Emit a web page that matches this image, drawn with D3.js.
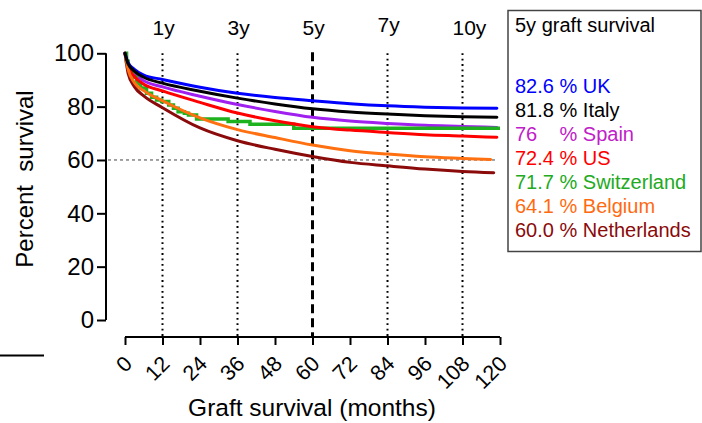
<!DOCTYPE html>
<html>
<head>
<meta charset="utf-8">
<script src="https://cdn.jsdelivr.net/npm/d3@7"></script>
<style>
  html, body { margin: 0; padding: 0; background: #fff; }
  svg { display: block; font-family: "Liberation Sans", Arial, sans-serif; }
  text { white-space: pre; }
</style>
</head>
<body>
<svg id="chart" width="702" height="423"></svg>
<script>
// ---------- data ----------
const countries = ["UK", "Italy", "Spain", "US", "Switzerland", "Belgium", "Netherlands"];
const fiveYearValues = ["82.6", "81.8", "76   ", "72.4", "71.7", "64.1", "60.0"];
const curveMonths = [0, 1, 3, 6, 12, 24, 36, 48, 60, 72, 84, 96, 108];
const endMonths = [119, 119, 119, 119, 120, 117, 118];

const ukSurv          = [100, 96.5, 94.0, 91.8, 90.2, 87.3, 85.0, 83.4, 82.2, 81.1, 80.3, 79.8, 79.5, 79.4];
const italySurv       = [100, 96.0, 93.3, 91.0, 88.8, 85.8, 83.2, 81.0, 79.2, 78.0, 77.2, 76.6, 76.2, 76.0];
const spainSurv       = [100, 95.5, 92.3, 89.7, 87.4, 83.9, 80.8, 78.2, 76.0, 74.6, 73.7, 73.0, 72.6, 72.2];
const usSurv          = [100, 95.0, 91.3, 88.4, 85.9, 81.6, 77.6, 74.7, 72.5, 71.2, 70.3, 69.5, 69.0, 68.5];
const belgiumSurv     = [100, 94.0, 89.0, 86.0, 82.2, 75.8, 71.4, 68.4, 65.6, 63.5, 62.2, 61.2, 60.6, 60.2];
const netherlandsSurv = [100, 92.5, 87.5, 84.0, 79.6, 72.0, 67.2, 64.0, 61.3, 59.1, 57.8, 56.6, 55.7, 55.2];

// Switzerland: Kaplan-Meier step curve
const switzerlandMonths = [0, 0.5, 1, 1.6, 2.5, 3.7, 5, 6.9, 8.5, 10.1, 11.7, 14, 15.5, 17, 19, 20.3, 22.9, 33, 40, 54, 120];
const switzerlandSurv   = [100, 97, 95, 93.7, 91, 88.7, 87, 85, 83.5, 82.5, 81.9, 80.6, 79.4, 78.1, 77.5, 76.9, 75.4, 74.4, 73.4, 71.9, 71.9];

const yTicks = [0, 20, 40, 60, 80, 100];
const xTicks = [0, 12, 24, 36, 48, 60, 72, 84, 96, 108, 120];
const yearMonths = [12, 36, 60, 84, 108];
const yearLabels = ["1y", "3y", "5y", "7y", "10y"];

const curveColors = ["#0000ff", "#000000", "#a020f0", "#ff0000", "#1fb21f", "#ff7010", "#8b0a0a"];
const textColors  = ["#0000ff", "#000000", "#c020c8", "#ff0000", "#22aa22", "#ff6a10", "#8b0a0a"];

// ---------- layout ----------
const svg = d3.select("#chart");
const x = d3.scaleLinear().domain([0, 120]).range([125, 500]);
const y = d3.scaleLinear().domain([0, 100]).range([320, 53.3]);
const xAxisY = 337;
const yAxisX = 106;

// ---------- reference lines ----------
const grid = svg.append("g");
yearMonths.forEach((m) => {
  if (m === 60) {
    grid.append("line")
      .attr("x1", x(m)).attr("x2", x(m))
      .attr("y1", y(100) - 1).attr("y2", xAxisY)
      .attr("stroke", "#000").attr("stroke-width", 3)
      .attr("stroke-dasharray", "9,5");
  } else {
    grid.append("line")
      .attr("x1", x(m)).attr("x2", x(m))
      .attr("y1", y(100)).attr("y2", xAxisY)
      .attr("stroke", "#000").attr("stroke-width", 2)
      .attr("stroke-dasharray", "1.8,3.6");
  }
});
grid.append("line")
  .attr("x1", yAxisX + 2).attr("x2", x(119))
  .attr("y1", y(60)).attr("y2", y(60))
  .attr("stroke", "#444").attr("stroke-width", 1)
  .attr("stroke-dasharray", "3,3");

// year labels
svg.append("g").selectAll("text")
  .data(yearMonths)
  .join("text")
  .attr("x", (d) => x(d) - 10)
  .attr("y", (d, i) => (yearLabels[i] === "7y" ? 32 : 35))
  .attr("font-size", 21)
  .attr("fill", "#000")
  .text((d, i) => yearLabels[i]);

// ---------- curves ----------
const smoothSeries = [ukSurv, italySurv, spainSurv, usSurv, null, belgiumSurv, netherlandsSurv];
const line = d3.line().x((d) => x(d[0])).y((d) => y(d[1])).curve(d3.curveMonotoneX);
const stepLine = d3.line().x((d) => x(d[0])).y((d) => y(d[1])).curve(d3.curveStepAfter);

const drawOrder = [2, 4, 3, 6, 5, 0, 1];
const curves = svg.append("g").attr("fill", "none");
drawOrder.forEach((i) => {
  let pts;
  if (i === 4) {
    pts = switzerlandMonths.map((m, k) => [m, switzerlandSurv[k]]);
    curves.append("path")
      .attr("d", stepLine(pts))
      .attr("stroke", curveColors[i]).attr("stroke-width", 3.5);
  } else {
    const ms = curveMonths.concat([endMonths[i]]);
    pts = ms.map((m, k) => [m, smoothSeries[i][k]]);
    curves.append("path")
      .attr("d", line(pts))
      .attr("stroke", curveColors[i]).attr("stroke-width", 3)
      .attr("stroke-linecap", "round");
  }
});

// ---------- axes ----------
const yAxis = d3.axisLeft(y).tickValues(yTicks).tickSize(9).tickPadding(3);
const gy = svg.append("g").attr("transform", `translate(${yAxisX},0)`).call(yAxis);
gy.select(".domain").attr("stroke", "#000").attr("stroke-width", 2).attr("d", `M0,${y(100)}V${y(0)}`);
gy.selectAll(".tick line").attr("stroke", "#000").attr("stroke-width", 2);
gy.selectAll(".tick text").attr("font-size", 24).attr("fill", "#000")
  .attr("font-family", "Liberation Sans, Arial, sans-serif");

const xAxis = d3.axisBottom(x).tickValues(xTicks).tickSize(8).tickFormat(d3.format("d"));
const gx = svg.append("g").attr("transform", `translate(0,${xAxisY})`).call(xAxis);
gx.select(".domain").attr("stroke", "#000").attr("stroke-width", 2).attr("d", `M${x(0)},0H${x(120)}`);
gx.selectAll(".tick line").attr("stroke", "#000").attr("stroke-width", 2);
gx.selectAll(".tick text")
  .attr("font-size", 21.5).attr("fill", "#000")
  .attr("font-family", "Liberation Sans, Arial, sans-serif")
  .attr("text-anchor", "end")
  .attr("dy", null)
  .attr("y", 0)
  .attr("transform", "translate(8,28) rotate(-45)");

// axis titles
svg.append("text")
  .attr("transform", "translate(33,179) rotate(-90)")
  .attr("text-anchor", "middle")
  .attr("font-size", 24)
  .attr("fill", "#000")
  .text("Percent  survival");

svg.append("text")
  .attr("x", 312).attr("y", 416)
  .attr("text-anchor", "middle")
  .attr("font-size", 24.5)
  .attr("fill", "#000")
  .text("Graft survival (months)");

// fragment of neighbouring panel
svg.append("line")
  .attr("x1", 0).attr("x2", 44).attr("y1", 355.5).attr("y2", 355.5)
  .attr("stroke", "#000").attr("stroke-width", 2);

// ---------- legend ----------
const lg = svg.append("g");
lg.append("rect")
  .attr("x", 508).attr("y", 10.5).attr("width", 193).attr("height", 241)
  .attr("fill", "#fff").attr("stroke", "#444").attr("stroke-width", 1.5);
lg.append("text")
  .attr("x", 515).attr("y", 32)
  .attr("font-size", 20).attr("fill", "#000")
  .text("5y graft survival");
lg.selectAll("text.entry")
  .data(countries)
  .join("text")
  .attr("class", "entry")
  .attr("x", 515)
  .attr("y", (d, i) => 92.7 + i * 24)
  .attr("font-size", 20)
  .attr("fill", (d, i) => textColors[i])
  .text((d, i) => `${fiveYearValues[i]} % ${d}`);
</script>
</body>
</html>
